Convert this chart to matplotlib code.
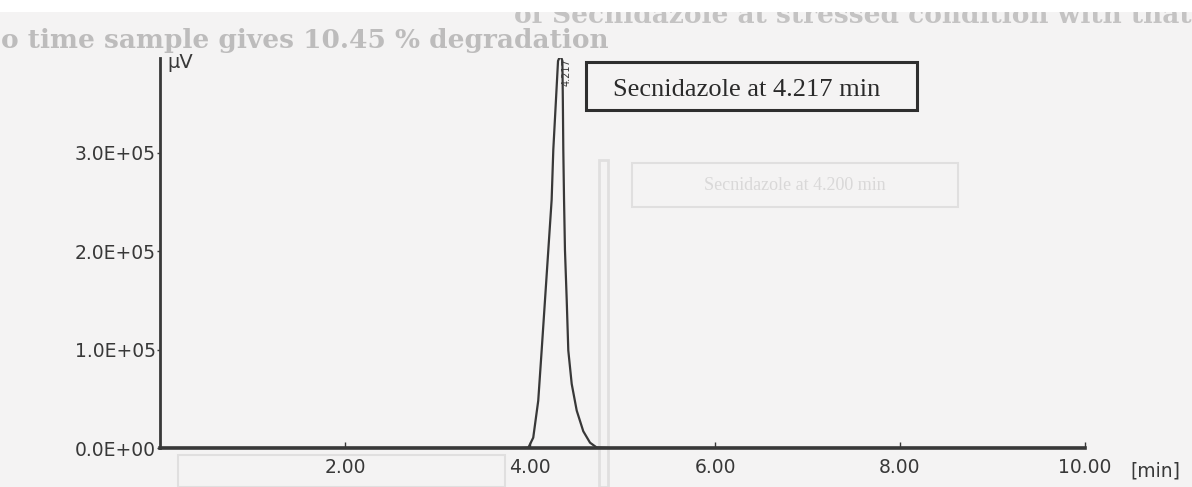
import matplotlib
matplotlib.use("Agg")
import matplotlib.pyplot as plt
from matplotlib.patches import Rectangle
from matplotlib.ticker import FixedLocator

# ---------------- data ----------------
time_min = [0.00, 1.00, 2.00, 3.00, 3.90, 3.982, 4.035, 4.089, 4.126, 4.162,
            4.198, 4.234, 4.252, 4.281, 4.303, 4.330, 4.350, 4.355, 4.360,
            4.368, 4.378, 4.397, 4.414, 4.451, 4.505, 4.576, 4.649, 4.721,
            4.865, 6.00, 8.00, 10.00]
signal_uv = [0, 0, 0, 0, 0, 300, 10500, 48000, 99000, 150000,
             201000, 252000, 303000, 354000, 393000, 399000, 393000, 354000, 303000,
             252000, 201000, 150000, 99000, 65000, 38000, 17000, 5400, 500,
             0, 0, 0, 0]

x_ticks = [2, 4, 6, 8, 10]
x_tick_labels = ["2.00", "4.00", "6.00", "8.00", "10.00"]
y_ticks = [0, 100000, 200000, 300000]
y_tick_labels = ["0.0E+00", "1.0E+05", "2.0E+05", "3.0E+05"]

peak_rt_label = "4.217"
peak_box_text = "Secnidazole at 4.217 min"
ghost_box_text = "Secnidazole at 4.200 min"
top_text_1 = "of Secnidazole at stressed condition with that"
top_text_2 = "o time sample gives 10.45 % degradation"

# ---------------- figure ----------------
W, H = 1192, 487
fig = plt.figure(figsize=(W / 100, H / 100), dpi=100)
fig.patch.set_facecolor("#f4f3f3")

def fx(px):
    return px / W

def fy(py):
    return 1 - py / H

ink = "#383838"
ghost = "#e0dfdf"

# ghost (bleed-through) elements
fig.add_artist(Rectangle((fx(632), fy(207)), fx(958) - fx(632), fy(163) - fy(207),
                         transform=fig.transFigure, fill=False, ec=ghost, lw=1.5, zorder=-2))
fig.text(fx(795), fy(186), ghost_box_text, ha="center", va="center",
         fontsize=13, family="Liberation Serif", color="#d9d8d8", zorder=-2)
fig.add_artist(Rectangle((fx(178), fy(487)), fx(505) - fx(178), fy(455) - fy(487),
                         transform=fig.transFigure, fill=False, ec=ghost, lw=1.5, zorder=-2))
fig.add_artist(Rectangle((fx(599), fy(487)), fx(9), fy(160) - fy(487),
                         transform=fig.transFigure, fill=False, ec=ghost, lw=2, zorder=-2))

# bleed-through page text at the top
fig.text(fx(1192), fy(23), top_text_1, ha="right", va="baseline",
         fontsize=19, family="DejaVu Serif", weight="bold", color="#c4c3c3")
fig.text(fx(1), fy(48), top_text_2, ha="left", va="baseline",
         fontsize=19, family="DejaVu Serif", weight="bold", color="#bdbcbc")
fig.add_artist(Rectangle((0, fy(12)), 1, fy(0) - fy(12), transform=fig.transFigure,
                         fc="white", ec="none", zorder=10))

# ---------------- axes ----------------
x0, x1 = 160, 1085
ytop, ybase = 58, 448
ax = fig.add_axes([fx(x0), fy(ybase), fx(x1) - fx(x0), fy(ytop) - fy(ybase)])
ax.set_facecolor("none")
ax.plot(time_min, signal_uv, color=ink, lw=1.6, solid_joinstyle="round", clip_on=True)
ax.set_xlim(0, 10)
ax.set_ylim(0, 396000)

for s in ["top", "right"]:
    ax.spines[s].set_visible(False)
ax.spines["left"].set_color(ink)
ax.spines["left"].set_linewidth(2.0)
ax.spines["bottom"].set_color(ink)
ax.spines["bottom"].set_linewidth(2.6)

ax.xaxis.set_major_locator(FixedLocator(x_ticks))
ax.set_xticklabels(x_tick_labels)
ax.yaxis.set_major_locator(FixedLocator(y_ticks))
ax.set_yticklabels(y_tick_labels)
ax.tick_params(axis="x", direction="in", length=4, width=1, color=ink, pad=7,
               labelsize=13.5, labelcolor=ink)
ax.tick_params(axis="y", direction="out", length=2, width=1, color=ink, pad=1,
               labelsize=13.5, labelcolor=ink)
for lab in ax.get_xticklabels() + ax.get_yticklabels():
    lab.set_family("DejaVu Sans")

ax.annotate("[min]", xy=(10, 0), xycoords="data", xytext=(33, -10),
            textcoords="offset points", ha="left", va="top",
            fontsize=13.5, family="DejaVu Sans", color=ink)

# axis unit label
fig.text(fx(167), fy(62), "µV", ha="left", va="center",
         fontsize=14, family="DejaVu Sans", color=ink)

# rotated retention-time label at the peak top
ax.text(4.40, 396000, peak_rt_label, rotation=90, ha="center", va="top",
        fontsize=7, family="DejaVu Sans", color=ink)

# peak annotation box
fig.add_artist(Rectangle((fx(586), fy(110)), fx(917) - fx(586), fy(62) - fy(110),
                         transform=fig.transFigure, fill=False, ec="#2e2e2e", lw=2.2, zorder=5))
fig.text(fx(747), fy(96), peak_box_text, ha="center", va="baseline",
         fontsize=19, family="Liberation Serif", color="#2a2a2a", zorder=5)

fig.savefig("out.png", dpi=100, facecolor=fig.get_facecolor())
